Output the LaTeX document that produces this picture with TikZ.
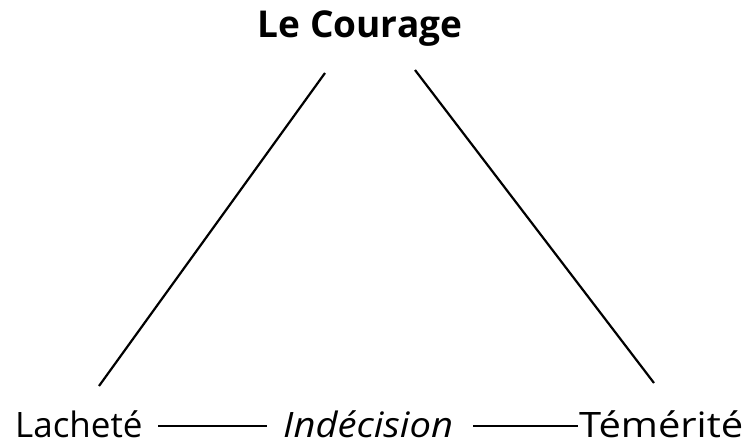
\documentclass[tikz,border=0pt]{standalone}
\usepackage{fontspec}
\setmainfont{Open Sans}
\begin{document}
\begin{tikzpicture}[x=1pt,y=-1pt,
  lbl/.style={inner sep=0pt,anchor=base west,font=\fontsize{35}{40}\selectfont},
  top/.style={inner sep=0pt,anchor=base,font=\fontsize{37}{42}\selectfont\bfseries},
  edge/.style={line width=2.2pt,black}]
\useasboundingbox[fill=white] (0,0) rectangle (745,444);
\node[top] (courage) at (360,38) {Le Courage};
\node[lbl] (lachete) at (15,437) {Lacheté};
\node[lbl,font=\fontsize{35}{40}\selectfont\itshape,xscale=1.09] (indecision) at (283,437) {Indécision};
\node[lbl,xscale=1.14] (temerite) at (579,437) {Témérité};
\coordinate (lt) at (325,73);
\coordinate (lb) at (99,386);
\coordinate (rt) at (415,70);
\coordinate (rb) at (654,383);
\coordinate (d1a) at (158,426);
\coordinate (d1b) at (267,426);
\coordinate (d2a) at (473,426);
\coordinate (d2b) at (578,426);
\draw[edge] (lt) -- (lb);
\draw[edge] (rt) -- (rb);
\draw[edge] (d1a) -- (d1b);
\draw[edge] (d2a) -- (d2b);
\end{tikzpicture}
\end{document}
